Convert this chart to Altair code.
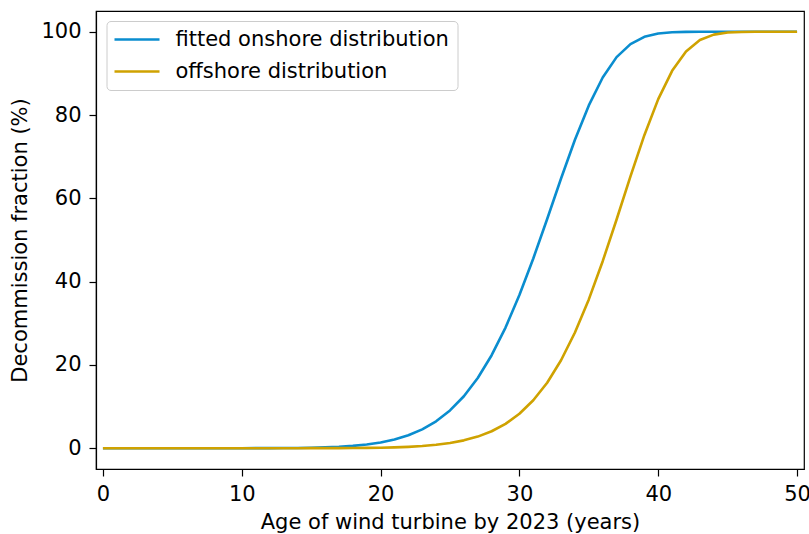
import altair as alt
import pandas as pd

# Age of wind turbine (years)
ages = list(range(0, 51))

# Decommission fraction (%), one value per year
onshore = [0.0, 0.0, 0.0, 0.0, 0.0, 0.0, 0.0, 0.0, 0.0, 0.0,
           0.0, 0.01, 0.02, 0.03, 0.06, 0.12, 0.20, 0.34, 0.56, 0.89,
           1.37, 2.09, 3.10, 4.52, 6.46, 9.06, 12.48, 16.85, 22.33, 28.97,
           36.77, 45.57, 55.05, 64.77, 74.08, 82.32, 89.03, 93.92, 97.05, 98.79,
           99.59, 99.89, 99.98, 100.0, 100.0, 100.0, 100.0, 100.0, 100.0, 100.0,
           100.0]
offshore = [0.0, 0.0, 0.0, 0.0, 0.0, 0.0, 0.0, 0.0, 0.0, 0.0,
            0.0, 0.0, 0.0, 0.0, 0.0, 0.01, 0.01, 0.02, 0.04, 0.07,
            0.12, 0.20, 0.32, 0.51, 0.81, 1.24, 1.88, 2.78, 4.07, 5.85,
            8.27, 11.50, 15.72, 21.11, 27.79, 35.73, 44.91, 54.93, 65.28, 75.18,
            83.83, 90.63, 95.30, 98.02, 99.33, 99.83, 99.97, 100.0, 100.0, 100.0,
            100.0]

series_names = ["fitted onshore distribution", "offshore distribution"]
series_colors = ["#0a8dcf", "#cfa200"]
x_ticks = [0, 10, 20, 30, 40, 50]
y_ticks = [0, 20, 40, 60, 80, 100]

rows = []
for i, (name, vals) in enumerate(zip(series_names, [onshore, offshore])):
    for a, v in zip(ages, vals):
        rows.append({"age": a, "fraction": v, "series": name, "k": i})
df = pd.DataFrame(rows)

FONT = "DejaVu Sans"

chart = alt.Chart(df).mark_line(strokeWidth=2.6, strokeCap="butt", strokeJoin="round").encode(
    x=alt.X("age:Q",
            scale=alt.Scale(domain=[-0.5, 50.5], nice=False, zero=False),
            axis=alt.Axis(values=x_ticks, title="Age of wind turbine by 2023 (years)",
                          labelPadding=7, titlePadding=7, format="d")),
    y=alt.Y("fraction:Q",
            scale=alt.Scale(domain=[-5, 105], nice=False, zero=False),
            axis=alt.Axis(values=y_ticks, title="Decommission fraction (%)",
                          labelPadding=8, titlePadding=10, format="d")),
    color=alt.Color("series:N",
                    scale=alt.Scale(domain=series_names, range=series_colors),
                    legend=alt.Legend(title=None, orient="none", legendX=10.5, legendY=10,
                                      symbolType="M-1.4,0H4.6", symbolSize=225,
                                      symbolStrokeWidth=2.6, labelOffset=40,
                                      labelFontSize=21, labelFont=FONT, labelLimit=0,
                                      rowPadding=10, padding=8,
                                      fillColor="rgba(255,255,255,0.8)",
                                      strokeColor="#cccccc", cornerRadius=4)),
    detail="k:O",
    order="age:Q",
).properties(
    width=708, height=458,
    autosize=alt.AutoSizeParams(type="none"),
    padding={"left": 96, "top": 11, "right": 5, "bottom": 65},
).configure_view(
    stroke="black", strokeWidth=1.2
).configure_axis(
    labelFont=FONT, titleFont=FONT, labelFontSize=21, titleFontSize=21,
    titleFontWeight="normal", labelColor="black", titleColor="black",
    domainColor="black", domainWidth=1.2, tickColor="black", tickWidth=1.2,
    tickSize=7, grid=False
)

chart.save("out.html", embed_options={"renderer": "svg", "actions": False})
